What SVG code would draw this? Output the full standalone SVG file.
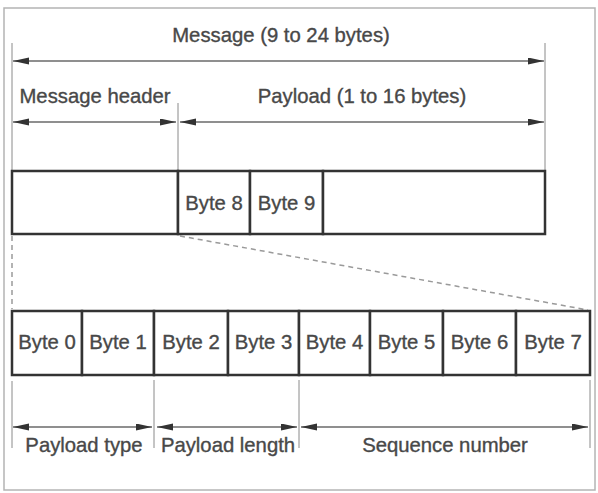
<svg xmlns="http://www.w3.org/2000/svg" width="598" height="493" viewBox="0 0 598 493">
<defs>
<style>
text{font-family:"Liberation Sans",Arial,sans-serif;font-size:20.3px;fill:#484848;stroke:#484848;stroke-width:0.35;text-anchor:middle}
.cell{fill:#fff;stroke:#333;stroke-width:2.5}
.ext{stroke:#8a8a8a;stroke-width:1;fill:none}
.dim{stroke:#6a6a6a;stroke-width:1.4;fill:none;marker-start:url(#ah);marker-end:url(#ah)}
.dash{stroke:#9a9a9a;stroke-width:1.5;fill:none;stroke-dasharray:5 4}
</style>
<marker id="ah" markerUnits="userSpaceOnUse" markerWidth="16" markerHeight="8" refX="16" refY="3.5" orient="auto-start-reverse">
<path d="M0,0 L16,3.5 L0,7 z" fill="#333"/>
</marker>
</defs>
<rect x="4" y="8" width="591" height="482" fill="#fff" stroke="#b4b4b4" stroke-width="1.5"/>
<g id="connectors">
<path class="ext" d="M12,43 V171 M178,103 V171 M545,43 V171"/>
<path class="dim" d="M13,61 H544"/>
<path class="dim" d="M13,122 H176"/>
<path class="dim" d="M180,122 H544"/>
<path class="dash" d="M12,236 V309" stroke-dasharray="2 3"/>
<path class="dash" d="M180,236 L588,310"/>
<path class="ext" d="M12,381 V448 M154,380 V448 M299,380 V448 M590,380 V448"/>
<path class="dim" d="M13,427 H152"/>
<path class="dim" d="M157,427 H297"/>
<path class="dim" d="M301,427 H588"/>
</g>
<g id="labels">
<text x="281" y="42">Message (9 to 24 bytes)</text>
<text x="95" y="103">Message header</text>
<text x="362" y="103">Payload (1 to 16 bytes)</text>
<text x="84" y="452">Payload type</text>
<text x="228" y="452">Payload length</text>
<text x="445" y="452">Sequence number</text>
</g>
<g id="header-cell"><rect class="cell" x="12" y="171" width="166" height="63"/></g>
<g id="byte8"><rect class="cell" x="178" y="171" width="72" height="63"/><text x="214" y="210">Byte 8</text></g>
<g id="byte9"><rect class="cell" x="250" y="171" width="73" height="63"/><text x="286.5" y="210">Byte 9</text></g>
<g id="payload-rest"><rect class="cell" x="323" y="171" width="222" height="63"/></g>
<g id="byte0"><rect class="cell" x="12" y="311" width="70" height="64"/><text x="47" y="349">Byte 0</text></g>
<g id="byte1"><rect class="cell" x="82" y="311" width="72" height="64"/><text x="118" y="349">Byte 1</text></g>
<g id="byte2"><rect class="cell" x="154" y="311" width="74" height="64"/><text x="191" y="349">Byte 2</text></g>
<g id="byte3"><rect class="cell" x="228" y="311" width="71" height="64"/><text x="263.5" y="349">Byte 3</text></g>
<g id="byte4"><rect class="cell" x="299" y="311" width="71" height="64"/><text x="334.5" y="349">Byte 4</text></g>
<g id="byte5"><rect class="cell" x="370" y="311" width="73" height="64"/><text x="406.5" y="349">Byte 5</text></g>
<g id="byte6"><rect class="cell" x="443" y="311" width="73" height="64"/><text x="479.5" y="349">Byte 6</text></g>
<g id="byte7"><rect class="cell" x="516" y="311" width="74" height="64"/><text x="553" y="349">Byte 7</text></g>
</svg>
